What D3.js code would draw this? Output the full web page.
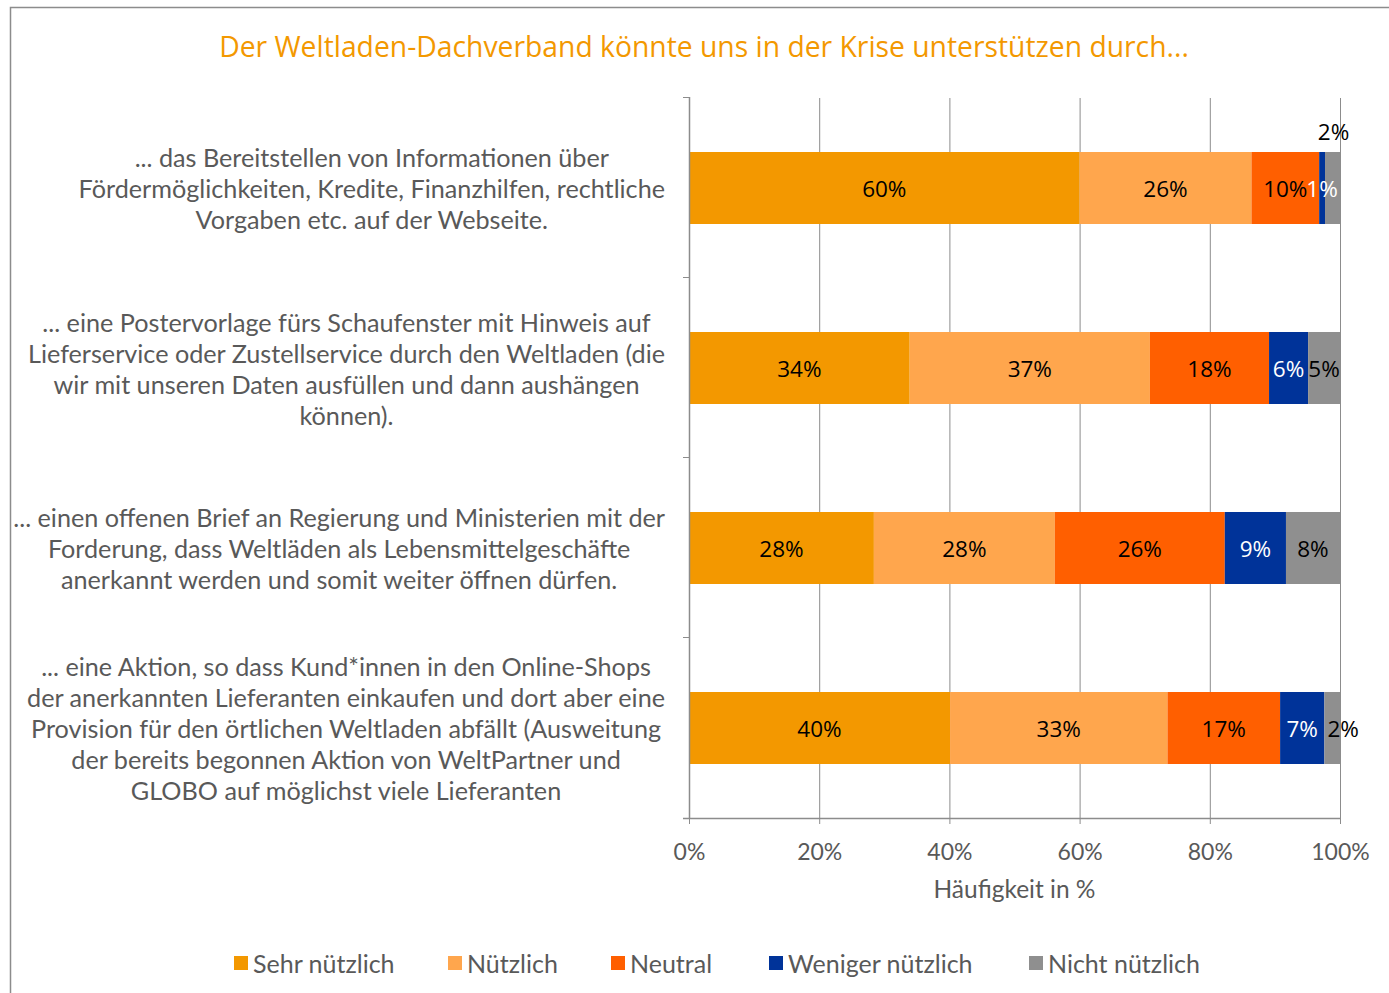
<!DOCTYPE html>
<html lang="de">
<head>
<meta charset="utf-8">
<title>Weltladen-Dachverband</title>
<script src="https://d3js.org/d3.v7.min.js"></script>
<style>
  body { margin: 0; background: #fff; }
  svg { display: block; }
</style>
</head>
<body>
<div id="chart"></div>
<script>
// categories (wrapped lines as in the original)
var categories = [
  ["... das Bereitstellen von Informationen über",
   "Fördermöglichkeiten, Kredite, Finanzhilfen, rechtliche",
   "Vorgaben etc. auf der Webseite."],
  ["... eine Postervorlage fürs Schaufenster mit Hinweis auf",
   "Lieferservice oder Zustellservice durch den Weltladen (die",
   "wir mit unseren Daten ausfüllen und dann aushängen",
   "können)."],
  ["... einen offenen Brief an Regierung und Ministerien mit der",
   "Forderung, dass Weltläden als Lebensmittelgeschäfte",
   "anerkannt werden und somit weiter öffnen dürfen."],
  ["... eine Aktion, so dass Kund*innen in den Online-Shops",
   "der anerkannten Lieferanten einkaufen und dort aber eine",
   "Provision für den örtlichen Weltladen abfällt (Ausweitung",
   "der bereits begonnen Aktion von WeltPartner und",
   "GLOBO auf möglichst viele Lieferanten"]
];

var seriesNames = ["Sehr nützlich", "Nützlich", "Neutral", "Weniger nützlich", "Nicht nützlich"];
var seriesColors = ["#f39800", "#ffa64d", "#ff5f00", "#003399", "#8f8f8f"];

// values in %, per series, one per category
var sehrNuetzlich    = [60.0, 33.9, 28.4, 40.1];
var nuetzlich        = [26.4, 36.9, 27.8, 33.4];
var neutral          = [10.4, 18.3, 26.1, 17.3];
var wenigerNuetzlich = [0.9, 6.0, 9.4, 6.8];
var nichtNuetzlich   = [2.3, 4.9, 8.3, 2.4];
var seriesValues = [sehrNuetzlich, nuetzlich, neutral, wenigerNuetzlich, nichtNuetzlich];

var xTicks = [0, 20, 40, 60, 80, 100];

var W = 1389, H = 993;
var svg = d3.select("#chart").append("svg")
  .attr("width", W).attr("height", H);

// outer frame
svg.append("rect")
  .attr("x", 10.5).attr("y", 7.5)
  .attr("width", W + 10).attr("height", H + 10)
  .attr("fill", "none").attr("stroke", "#8c8c8c").attr("stroke-width", 1.5);

// title
svg.append("text")
  .attr("x", 704).attr("y", 57)
  .attr("text-anchor", "middle")
  .attr("fill", "#f39800")
  .style("font-family", "'Open Sans', sans-serif")
  .style("font-size", "28.3px")
  .text("Der Weltladen-Dachverband könnte uns in der Krise unterstützen durch...");

var pLeft = 689, pRight = 1340, pTop = 98, pBottom = 818;

var x = d3.scaleLinear().domain([0, 100]).range([pLeft, pRight]);
var y = d3.scaleBand().domain(d3.range(categories.length)).range([pTop, pBottom]).paddingInner(0.6).paddingOuter(0.3);

// gridlines
svg.append("g").selectAll("line")
  .data(xTicks.slice(1))
  .join("line")
  .attr("x1", d => x(d) + 0.5).attr("x2", d => x(d) + 0.5)
  .attr("y1", pTop).attr("y2", pBottom)
  .attr("stroke", "#8c8c8c").attr("stroke-width", 1);

// stacked data
var rows = categories.map(function(c, i) {
  var o = { idx: i };
  seriesNames.forEach(function(s, k) { o[s] = seriesValues[k][i]; });
  return o;
});
var stack = d3.stack().keys(seriesNames)(rows);

var layers = svg.append("g").selectAll("g")
  .data(stack)
  .join("g")
  .attr("fill", (d, k) => seriesColors[k]);

layers.selectAll("rect")
  .data(d => d)
  .join("rect")
  .attr("x", d => x(d[0]))
  .attr("width", d => x(d[1]) - x(d[0]))
  .attr("y", d => y(d.data.idx))
  .attr("height", y.bandwidth());

// value labels
stack.forEach(function(layer, k) {
  layer.forEach(function(d) {
    var i = d.data.idx;
    var v = d[1] - d[0];
    var cx = (x(d[0]) + x(d[1])) / 2;
    var cy = y(i) + y.bandwidth() / 2;
    var color = k === 3 ? "#fff" : "#000";
    // narrow last segment: label above the bar (first row) or just right of it
    if (k === 4 && x(d[1]) - x(d[0]) < 20) {
      if (i === 0) { cy = y(i) - 21; cx += 1; }
      else { cx = cx + 11; }
    }
    svg.append("text")
      .attr("x", cx).attr("y", cy)
      .attr("text-anchor", "middle")
      .attr("dominant-baseline", "central")
      .attr("fill", color)
      .style("font-family", "'Open Sans', sans-serif")
      .style("font-size", "22.5px")
      .text(Math.round(v) + "%");
  });
});

// axes
var axisColor = "#8c8c8c", textGray = "#595959";
var xAxis = svg.append("g")
  .attr("transform", "translate(0," + pBottom + ")")
  .call(d3.axisBottom(x).tickValues(xTicks).tickFormat(d => d + "%").tickSize(6).tickSizeOuter(0));
xAxis.select(".domain").attr("stroke", axisColor).attr("stroke-width", 1.5)
  .attr("d", "M" + (pLeft - 6) + ",0.5H" + pRight);
xAxis.selectAll(".tick line").attr("stroke", axisColor);
xAxis.selectAll(".tick text")
  .attr("fill", textGray).attr("dy", "1.45em")
  .style("font-family", "Lato, sans-serif").style("font-size", "23px");

var yAxis = svg.append("g")
  .attr("transform", "translate(" + pLeft + ",0)");
yAxis.append("line")
  .attr("x1", 0.5).attr("x2", 0.5).attr("y1", pTop - 1).attr("y2", pBottom)
  .attr("stroke", axisColor).attr("stroke-width", 1.5);
var catTicks = d3.range(categories.length + 1).map(i => i === categories.length ? pBottom : pTop - 1 + i * y.step());
yAxis.selectAll("line.t")
  .data(catTicks)
  .join("line")
  .attr("class", "t")
  .attr("x1", -6).attr("x2", 0)
  .attr("y1", d => d + 0.5).attr("y2", d => d + 0.5)
  .attr("stroke", axisColor);

svg.append("text")
  .attr("x", (pLeft + pRight) / 2).attr("y", 898)
  .attr("text-anchor", "middle")
  .attr("fill", textGray)
  .style("font-family", "Lato, sans-serif").style("font-size", "24.5px")
  .text("Häufigkeit in %");

// category labels, centered lines, block right edge at 665
var lineH = 31;
categories.forEach(function(lines, i) {
  var cy = y(i) + y.bandwidth() / 2;
  var g = svg.append("g");
  var texts = lines.map(function(l, j) {
    return g.append("text")
      .attr("y", cy + (j - (lines.length - 1) / 2) * lineH)
      .attr("text-anchor", "middle")
      .attr("dominant-baseline", "central")
      .attr("fill", textGray)
      .style("font-family", "Lato, sans-serif").style("font-size", "25.2px")
      .text(l);
  });
  var maxW = d3.max(texts, t => t.node().getComputedTextLength());
  texts.forEach(t => t.attr("x", 665 - maxW / 2));
});

// legend
var legendX = [234, 448, 611, 769, 1029];
var legend = svg.append("g").selectAll("g")
  .data(seriesNames)
  .join("g")
  .attr("transform", (d, k) => "translate(" + legendX[k] + ",956)");
legend.append("rect")
  .attr("width", 14).attr("height", 14)
  .attr("fill", (d, k) => seriesColors[k]);
legend.append("text")
  .attr("x", 19).attr("y", 7)
  .attr("dominant-baseline", "central")
  .attr("fill", textGray)
  .style("font-family", "Lato, sans-serif").style("font-size", "25px")
  .text(d => d);
</script>
</body>
</html>
